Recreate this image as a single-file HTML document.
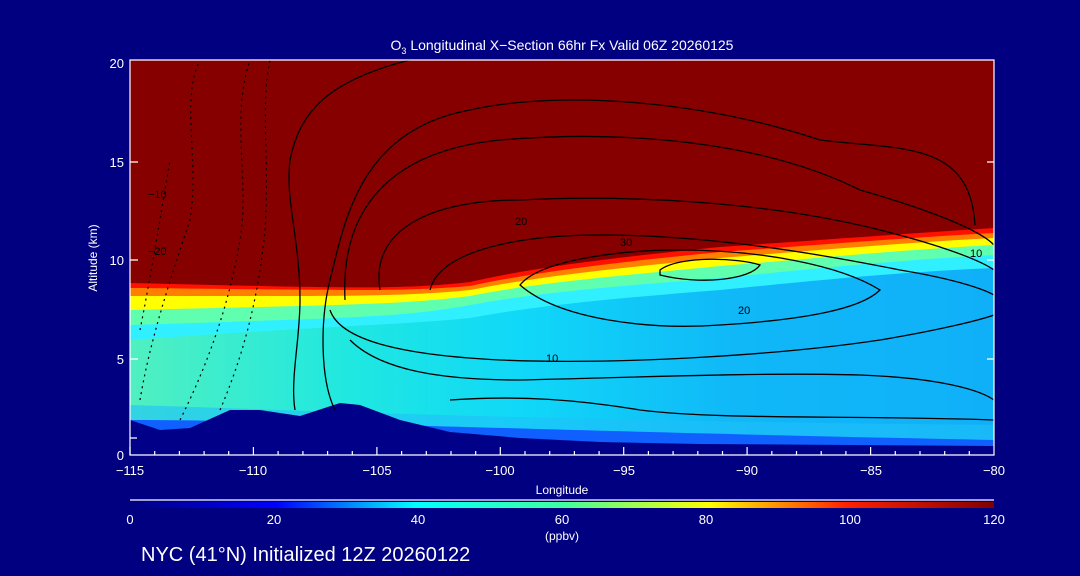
<!DOCTYPE html>
<html><head><meta charset="utf-8"><style>
html,body{margin:0;padding:0;background:#000080;}
svg{display:block;font-family:"Liberation Sans",sans-serif;}
</style></head><body>
<svg width="1080" height="576" viewBox="0 0 1080 576" xmlns="http://www.w3.org/2000/svg">
<defs>
<linearGradient id="cb" x1="0" x2="1" y1="0" y2="0">
<stop offset="0" stop-color="#000080"/><stop offset="0.17" stop-color="#0000ff"/>
<stop offset="0.33" stop-color="#00ffff"/><stop offset="0.5" stop-color="#40ffa0"/>
<stop offset="0.67" stop-color="#ffff00"/><stop offset="0.83" stop-color="#ff2000"/>
<stop offset="1" stop-color="#800000"/></linearGradient>
<linearGradient id="lo" x1="0" x2="1" y1="0" y2="0">
<stop offset="0" stop-color="#50f0c0"/><stop offset="0.25" stop-color="#20e8e0"/>
<stop offset="0.45" stop-color="#10d8f8"/><stop offset="0.7" stop-color="#10b8f8"/>
<stop offset="1" stop-color="#10b0f8"/></linearGradient>
<clipPath id="pc"><rect x="130" y="60" width="864" height="395"/></clipPath>
</defs>
<rect width="1080" height="576" fill="#000080"/>
<g clip-path="url(#pc)">
<rect x="130" y="60" width="864" height="395" fill="url(#lo)"/>
<rect x="130" y="300" width="864" height="155" fill="url(#lo)" opacity="0.5"/>
<path d="M130,455 L130,405 C300,410 500,420 994,425 L994,455Z" fill="#20c0f8" opacity="0.6"/>
<path d="M130,455 L130,420 C300,420 500,430 994,440 L994,455Z" fill="#1060ff"/>
<g id="layers">
<path d="M130,60 L994,60 L994,268 C900,272 820,280 720,290 C620,298 540,305 470,318 C400,325 340,325 130,340Z" fill="#30f0ff"/>
<path d="M130,60 L994,60 L994,255 C900,260 820,268 720,278 C620,286 540,292 470,305 C400,318 340,318 130,325Z" fill="#60ffb0"/>
<path d="M130,60 L994,60 L994,245 C900,250 820,258 720,266 C620,276 540,282 470,296 C400,305 340,305 130,310Z" fill="#ffff00"/>
<path d="M130,60 L994,60 L994,238 C900,243 820,250 720,258 C620,268 540,276 470,290 C400,297 340,296 130,296Z" fill="#ff8000"/>
<path d="M130,60 L994,60 L994,233 C900,238 820,245 720,252 C620,262 540,271 470,286 C400,292 340,290 130,288Z" fill="#ff1000"/>
<path d="M130,60 L994,60 L994,228 C900,234 820,240 720,247 C620,257 540,266 470,282 C400,290 340,288 130,283Z" fill="#870000"/>
</g>
<path d="M130,455 L130,420 L160,430 L190,428 L230,410 L260,410 L300,416 L340,403 L360,405 L400,420 L450,432 L520,438 L600,442 L700,444 L994,446 L994,455Z" fill="#000088"/>
<g fill="none" stroke="#000" stroke-width="1.3">
<path d="M410,60 C330,80 300,110 290,160 C285,200 300,240 300,300 C300,340 290,380 295,410"/>
<path d="M335,410 C320,380 320,320 330,280 C345,220 360,130 470,110 C560,90 700,100 820,140 C900,150 970,140 975,225"/>
<path d="M345,300 C340,200 400,150 500,140 C620,130 760,140 860,190 C930,210 980,230 994,245"/>
<path d="M380,290 C370,230 430,200 520,200 C620,195 760,200 880,230 C940,245 980,260 994,270"/>
<path d="M430,290 C440,250 520,235 600,235 C700,235 800,250 900,270 C960,280 985,290 994,295"/>
<path d="M520,285 C540,260 620,250 680,250 C760,250 840,265 880,290 C860,310 800,320 720,325 C650,330 560,320 520,285Z"/>
<path d="M660,270 C680,255 740,258 760,265 C750,280 700,285 660,275Z"/>
<path d="M330,310 C340,340 400,355 500,360 C620,365 780,355 880,340 C940,330 980,320 994,315"/>
<path d="M350,340 C380,370 440,380 520,380 C620,378 760,372 860,375 C940,378 980,390 994,400"/>
<path d="M450,400 C520,395 580,400 640,410 C720,420 850,415 994,420"/>
</g>
<g fill="none" stroke="#000" stroke-width="1.2" stroke-dasharray="2,4">
<path d="M140,400 C150,340 170,280 190,220 C200,160 180,100 200,60"/>
<path d="M180,420 C210,360 230,300 240,240 C250,180 230,120 250,60"/>
<path d="M220,410 C250,340 260,280 265,230 C270,160 260,110 270,60"/>
<path d="M140,330 C150,280 160,220 170,160"/>
</g>
</g>
<g fill="#000" font-size="11">
<text x="515" y="225">20</text><text x="620" y="246">30</text><text x="738" y="314">20</text><text x="546" y="362">10</text><text x="970" y="257">10</text><text x="148" y="255">−20</text><text x="148" y="198">−10</text>
</g>
<g stroke="#fff" stroke-width="1.2" fill="none">
<path d="M130,60 L994,60 L994,455 L130,455 Z"/>
<path d="M130,438 L137,438 M130,359 L138,359 M130,260 L138,260 M130,162 L138,162 M987,359 L994,359 M987,260 L994,260 M987,162 L994,162"/>
<path d="M130,455 V447 M253.4,455 V447 M376.9,455 V447 M500.3,455 V447 M623.7,455 V447 M747.1,455 V447 M870.6,455 V447"/>
<path d="M154.7,455V451M179.4,455V451M204.1,455V451M228.7,455V451M278.1,455V451M302.9,455V451M327.6,455V451M352.3,455V451M401.6,455V451M426.3,455V451M451,455V451M475.7,455V451M525,455V451M549.7,455V451M574.4,455V451M599.1,455V451M648.4,455V451M673.1,455V451M697.8,455V451M722.5,455V451M771.8,455V451M796.5,455V451M821.2,455V451M845.9,455V451M895.3,455V451M920,455V451M944.7,455V451M969.3,455V451"/>
<path d="M130,500 L994,500"/>
</g>
<rect x="130" y="502" width="864" height="6" fill="url(#cb)"/>
<g fill="#fff" font-size="13">
<text x="562" y="50" text-anchor="middle" font-size="14">O<tspan font-size="9" dy="4">3</tspan><tspan dy="-4"> Longitudinal X−Section 66hr  Fx Valid 06Z 20260125</tspan></text>
<g text-anchor="end"><text x="124" y="460">0</text><text x="124" y="364">5</text><text x="124" y="265">10</text><text x="124" y="167">15</text><text x="124" y="68">20</text></g>
<g text-anchor="middle"><text x="130" y="475">−115</text><text x="253" y="475">−110</text><text x="377" y="475">−105</text><text x="500" y="475">−100</text><text x="624" y="475">−95</text><text x="747" y="475">−90</text><text x="871" y="475">−85</text><text x="994" y="475">−80</text>
<text x="562" y="494" font-size="12">Longitude</text>
<text x="130" y="524">0</text><text x="274" y="524">20</text><text x="418" y="524">40</text><text x="562" y="524">60</text><text x="706" y="524">80</text><text x="850" y="524">100</text><text x="994" y="524">120</text>
<text x="562" y="540" font-size="12">(ppbv)</text></g>
<text transform="translate(97,258) rotate(-90)" text-anchor="middle" font-size="12">Altitude (km)</text>
<text x="141" y="561" font-size="20">NYC (41°N) Initialized 12Z 20260122</text>
</g>
</svg>
</body></html>
